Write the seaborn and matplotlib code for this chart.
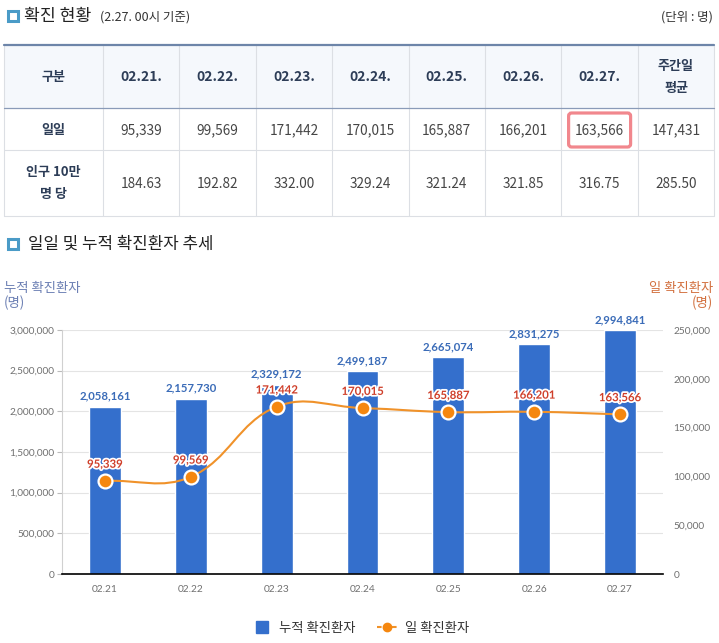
import numpy as np
import matplotlib
matplotlib.use('Agg')
import matplotlib.pyplot as plt
import seaborn as sns
import matplotlib.patheffects as pe
from matplotlib.patches import Rectangle, FancyBboxPatch, PathPatch
from matplotlib.path import Path
from matplotlib.lines import Line2D
from matplotlib.ticker import FuncFormatter

# Table data (2.27. 00시 기준)
table_dates = ['02.21.', '02.22.', '02.23.', '02.24.', '02.25.', '02.26.', '02.27.']
daily_cases = [95339, 99569, 171442, 170015, 165887, 166201, 163566]
per_100k = [184.63, 192.82, 332.00, 329.24, 321.24, 321.85, 316.75]
weekly_avg_cases = 147431
weekly_avg_per_100k = 285.50

# Chart data
chart_dates = ['02.21', '02.22', '02.23', '02.24', '02.25', '02.26', '02.27']
cumulative_cases = [2058161, 2157730, 2329172, 2499187, 2665074, 2831275, 2994841]

sns.set_theme(style='white')
# set after set_theme, otherwise it gets reset
plt.rcParams['font.family'] = ['Noto Sans CJK KR', 'DejaVu Sans']

W, H = 719, 643
fig = plt.figure(figsize=(W / 100, H / 100), dpi=100)

# Pixel canvas for the table and the titles
bg = fig.add_axes([0, 0, 1, 1])
bg.set_xlim(0, W)
bg.set_ylim(H, 0)
bg.axis('off')

icon_col = '#4a9bc7'
head_col = '#2d3d57'
body_col = '#454545'
line_col = '#dcdfe4'

# Section 1 title
bg.add_patch(Rectangle((7.5, 10.5), 10, 10, facecolor='white', edgecolor=icon_col, lw=2.2))
bg.text(24, 16, '확진 현황', fontsize=12.4, color='#222222', va='center', ha='left')
bg.text(100, 17, '(2.27. 00시 기준)', fontsize=9, color='#333333', va='center', ha='left')
bg.text(713, 17, '(단위 : 명)', fontsize=9, color='#333333', va='center', ha='right')

# Table grid
x_left, x_first, col_w = 4, 103, 76.4
n_cols = len(table_dates) + 1
x_right = x_first + col_w * n_cols
y_top, y_head, y_row1, y_bot = 45, 108, 150, 216

bg.add_patch(Rectangle((x_left, y_top), x_right - x_left, y_head - y_top,
                       facecolor='#f5f8fc', edgecolor='none'))
for xe in [x_left] + [x_first + col_w * k for k in range(n_cols + 1)]:
    bg.plot([xe, xe], [y_top, y_bot], color=line_col, lw=0.8)
bg.plot([x_left, x_right], [y_row1, y_row1], color=line_col, lw=0.8)
bg.plot([x_left, x_right], [y_bot, y_bot], color=line_col, lw=0.8)
bg.plot([x_left, x_right], [y_head, y_head], color='#8a9bb8', lw=0.9)
bg.plot([x_left, x_right], [y_top, y_top], color='#6d85a9', lw=1.6)

col_centers = [x_first + col_w * (k + 0.5) for k in range(n_cols)]
first_center = (x_left + x_first) / 2

# header row
bg.text(first_center, 77, '구분', fontsize=9.4, fontweight='bold', color=head_col, ha='center', va='center')
for cx, d in zip(col_centers, table_dates):
    bg.text(cx, 77, d, fontsize=10, fontweight='bold', color=head_col, ha='center', va='center')
bg.text(col_centers[-1], 66, '주간일', fontsize=9.4, fontweight='bold', color=head_col, ha='center', va='center')
bg.text(col_centers[-1], 88, '평균', fontsize=9.4, fontweight='bold', color=head_col, ha='center', va='center')

# daily row
bg.text(first_center, 130, '일일', fontsize=9.4, fontweight='bold', color=head_col, ha='center', va='center')
for cx, v in zip(col_centers, daily_cases + [weekly_avg_cases]):
    bg.text(cx, 130, f'{v:,}', fontsize=9.8, color=body_col, ha='center', va='center')

# per 100k row
bg.text(first_center, 172, '인구 10만', fontsize=9.4, fontweight='bold', color=head_col, ha='center', va='center')
bg.text(first_center, 194, '명 당', fontsize=9.4, fontweight='bold', color=head_col, ha='center', va='center')
for cx, v in zip(col_centers, per_100k + [weekly_avg_per_100k]):
    bg.text(cx, 184, f'{v:.2f}', fontsize=9.8, color=body_col, ha='center', va='center')

# highlight box on the latest day
hx = col_centers[len(table_dates) - 1]
bg.add_patch(FancyBboxPatch((hx - 31, 113), 62, 34, boxstyle='round,pad=0,rounding_size=3',
                            facecolor='none', edgecolor='#f1878d', lw=2.3))

# Section 2 title
bg.add_patch(Rectangle((7.5, 238.5), 10, 10, facecolor='white', edgecolor=icon_col, lw=2.2))
bg.text(28, 244, '일일 및 누적 확진환자 추세', fontsize=12.1, color='#222222', va='center', ha='left')

# axis titles
bg.text(4, 288, '누적 확진환자', fontsize=9.6, color='#6b7fb3', ha='left', va='center')
bg.text(4, 303, '(명)', fontsize=9.6, color='#6b7fb3', ha='left', va='center')
bg.text(713, 288, '일 확진환자', fontsize=9.6, color='#d2703f', ha='right', va='center')
bg.text(713, 303, '(명)', fontsize=9.6, color='#d2703f', ha='right', va='center')

# Chart
bar_col = '#346fcc'
orange = '#f0922a'
ax = fig.add_axes([62 / W, (H - 574) / H, (663 - 62) / W, (574 - 330) / H])
sns.barplot(x=chart_dates, y=cumulative_cases, color=bar_col, saturation=1, width=0.37, ax=ax)
ax.set_xlim(-0.5, len(chart_dates) - 0.5)
ax.set_ylim(0, 3_000_000)
ax.set_yticks(range(0, 3_000_001, 500_000))
ax.yaxis.set_major_formatter(FuncFormatter(lambda v, p: f'{int(v):,}'))
ax.grid(axis='y', color='#e4e4e4', lw=0.8)
ax.set_axisbelow(True)
ax.set_xlabel('')
ax.set_ylabel('')
for s in ['top', 'right']:
    ax.spines[s].set_visible(False)
ax.spines['left'].set_color('#d0d0d0')
ax.spines['left'].set_linewidth(0.8)
ax.spines['bottom'].set_color('black')
ax.spines['bottom'].set_linewidth(1.2)
ax.tick_params(axis='y', left=True, length=3.6, width=0.8, color='#bbbbbb', pad=2,
               labelsize=7.3, labelcolor='#707070')
ax.tick_params(axis='x', length=0, pad=8, labelsize=7.3, labelcolor='#707070')
for lbl in ax.get_yticklabels() + ax.get_xticklabels():
    lbl.set_family('Lato')

ax.bar_label(ax.containers[0], labels=[f'{v:,}' for v in cumulative_cases], padding=3.5,
             color='#3b6cb8', fontsize=8.2, fontweight='bold', family='Lato')

# daily cases on the right axis
ax2 = ax.twinx()
ax2.set_ylim(0, 250_000)
ax2.set_yticks(range(0, 250_001, 50_000))
ax2.yaxis.set_major_formatter(FuncFormatter(lambda v, p: f'{int(v):,}'))
for s in ax2.spines.values():
    s.set_visible(False)
ax2.tick_params(axis='y', right=True, length=0, pad=7.5, labelsize=7.3, labelcolor='#707070')
for lbl in ax2.get_yticklabels():
    lbl.set_family('Lato')

xpos = list(range(len(daily_cases)))
sns.scatterplot(x=xpos, y=daily_cases, ax=ax2, s=100, color='#f5870f', edgecolor='white',
                linewidth=1.6, zorder=5, legend=False)
ax2.set_xlim(-0.5, len(chart_dates) - 0.5)
ax2.set_ylim(0, 250_000)
ax2.set_xlabel('')
ax2.set_ylabel('')


# smooth connecting line (bezier through the data points, tension 0.4)
def spline_path(axis, xs, ys, t=0.4):
    pts = axis.transData.transform(np.column_stack([xs, ys]))
    n = len(pts)
    c_prev, c_next = [], []
    for i in range(n):
        p0 = pts[max(i - 1, 0)]
        p1 = pts[i]
        p2 = pts[min(i + 1, n - 1)]
        d01 = np.hypot(*(p1 - p0))
        d12 = np.hypot(*(p2 - p1))
        s01 = d01 / (d01 + d12)
        s12 = d12 / (d01 + d12)
        c_prev.append(p1 - t * s01 * (p2 - p0))
        c_next.append(p1 + t * s12 * (p2 - p0))
    verts = [pts[0]]
    codes = [Path.MOVETO]
    for i in range(1, n):
        verts += [c_next[i - 1], c_prev[i], pts[i]]
        codes += [Path.CURVE4] * 3
    verts = axis.transData.inverted().transform(np.array(verts))
    return Path(verts, codes)


ax2.add_patch(PathPatch(spline_path(ax2, xpos, daily_cases), facecolor='none',
                        edgecolor=orange, lw=1.5, zorder=4))

for i, v in enumerate(daily_cases):
    ax2.annotate(f'{v:,}', (i, v), xytext=(0, 12), textcoords='offset points',
                 ha='center', va='center', fontsize=8.2, fontweight='bold', family='Lato',
                 color='#cf3f2a', zorder=6,
                 path_effects=[pe.withStroke(linewidth=2.5, foreground='white')])

# legend
handles = [
    Line2D([], [], marker='s', ls='none', color=bar_col, markersize=8.6),
    Line2D([], [], color=orange, ls=(0, (2.2, 1.4)), lw=1.5, marker='o', markersize=6,
           markerfacecolor='#f5870f', markeredgecolor='#f5870f'),
]
fig.legend(handles, ['누적 확진환자', '일 확진환자'], loc='center',
           bbox_to_anchor=(360 / W, 1 - 628 / H), ncol=2, frameon=False, fontsize=9.6,
           handlelength=1.6, handletextpad=0.5, columnspacing=1.6, labelcolor='#333333')

fig.savefig('out.png', dpi=100)
